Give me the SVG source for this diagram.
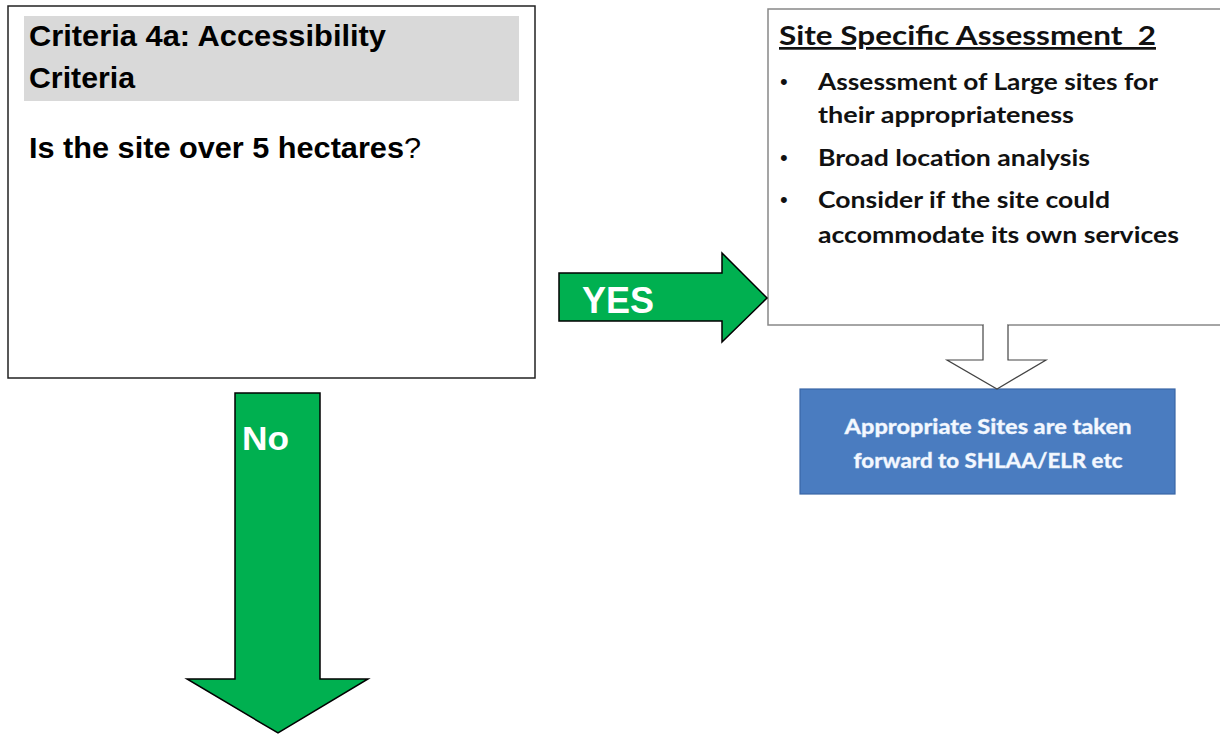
<svg xmlns="http://www.w3.org/2000/svg" width="1220" height="735" viewBox="0 0 1220 735">
<style>
.ar{font-family:"Liberation Sans",Arial,sans-serif;font-weight:bold;fill:#000}
.cal{font-family:Lato,"Open Sans",sans-serif;font-weight:bold;fill:#111}
.green{fill:#00b050;stroke:#000;stroke-width:1.5}
.lbl{fill:#fff;font-family:"Liberation Sans",Arial,sans-serif;font-weight:bold}
.bul{font-family:"Liberation Sans",Arial,sans-serif;font-size:22px;fill:#111}
</style>
<rect width="1220" height="735" fill="#fff"/>
<g id="criteria-box">
<rect x="8" y="6" width="527" height="372" fill="#fff" stroke="#222" stroke-width="1.5"/>
<rect x="24" y="16" width="495" height="85" fill="#d9d9d9"/>
<text class="ar" x="29" y="46" font-size="30" textLength="357" lengthAdjust="spacingAndGlyphs">Criteria 4a: Accessibility</text>
<text class="ar" x="29" y="88" font-size="30" textLength="106" lengthAdjust="spacingAndGlyphs">Criteria</text>
<text class="ar" x="29" y="158" font-size="30" textLength="392" lengthAdjust="spacingAndGlyphs">Is the site over 5 hectares<tspan font-weight="normal">?</tspan></text>
</g>
<g id="assessment-box">
<rect x="768" y="9" width="460" height="316" fill="#fff" stroke="#888" stroke-width="1.5"/>
<text class="cal" x="779" y="45" font-size="27" text-decoration="underline" textLength="377" lengthAdjust="spacingAndGlyphs">Site Specific Assessment&#160; 2</text>
<text class="bul" x="780" y="89">•</text>
<text class="bul" x="780" y="165">•</text>
<text class="bul" x="780" y="207">•</text>
<g font-size="22" class="cal">
<text x="818" y="90" textLength="340" lengthAdjust="spacingAndGlyphs">Assessment of Large sites for</text>
<text x="818" y="123" textLength="256" lengthAdjust="spacingAndGlyphs">their appropriateness</text>
<text x="818" y="166" textLength="272" lengthAdjust="spacingAndGlyphs">Broad location analysis</text>
<text x="818" y="208" textLength="292" lengthAdjust="spacingAndGlyphs">Consider if the site could</text>
<text x="818" y="243" textLength="361" lengthAdjust="spacingAndGlyphs">accommodate its own services</text>
</g>
</g>
<g id="result-box">
<rect x="800" y="389" width="375" height="105" fill="#4a7cc0" stroke="#3a66a6" stroke-width="1.2"/>
<g font-family="Lato,'Open Sans',sans-serif" font-weight="900" font-size="21" fill="#f4f8ff" stroke="#dfe9f8" stroke-width="0.3">
<text x="988" y="434" text-anchor="middle" textLength="287" lengthAdjust="spacingAndGlyphs">Appropriate Sites are taken</text>
<text x="988" y="468" text-anchor="middle" textLength="269" lengthAdjust="spacingAndGlyphs">forward to SHLAA/ELR etc</text>
</g>
</g>
<g id="connectors">
<g id="yes-arrow">
<polygon class="green" points="559,273 722,273 722,253 767,298 722,342 722,321 559,321"/>
<text class="lbl" x="582" y="313" font-size="36" textLength="72" lengthAdjust="spacingAndGlyphs">YES</text>
</g>
<g id="no-arrow">
<polygon class="green" points="235,393 320,393 320,679 368,679 278,733 187,679 235,679"/>
<text class="lbl" x="242" y="450" font-size="34" textLength="47" lengthAdjust="spacingAndGlyphs">No</text>
</g>
<g id="down-arrow">
<rect x="984" y="323" width="23" height="4" fill="#fff"/>
<path d="M983,325 V360 H947 L997,389 L1046,360 H1008 V325" fill="#fff" stroke="#444" stroke-width="1.2"/>
</g>
</g>
</svg>
